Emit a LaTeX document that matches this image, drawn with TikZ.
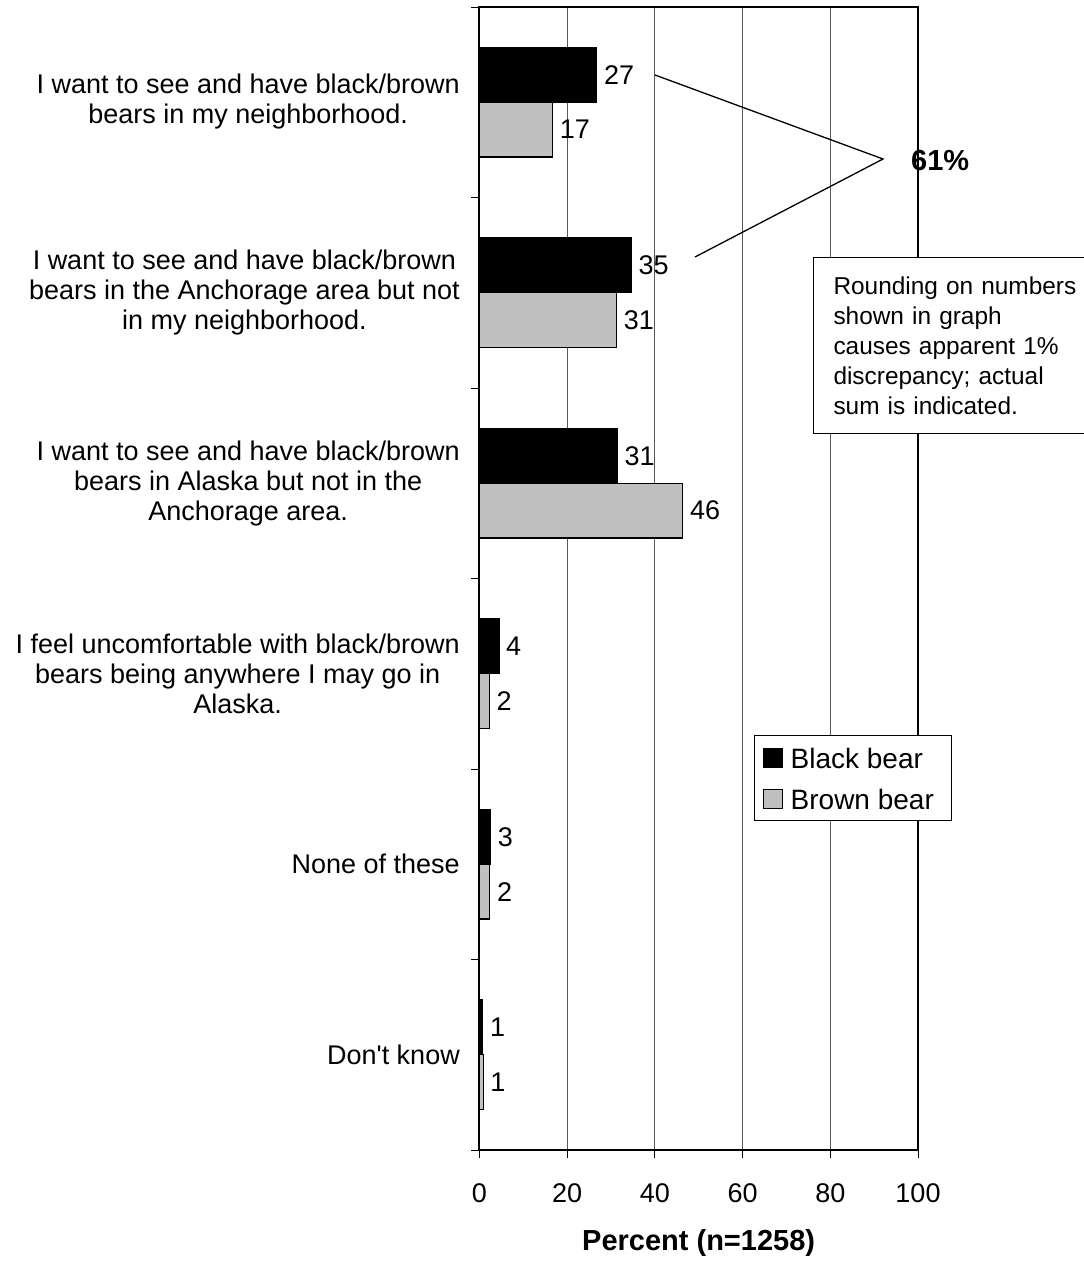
\documentclass[tikz,border=0pt]{standalone}
\usepackage{fontspec}
\setmainfont{Liberation Sans}[Ligatures=TeXOff]
\usetikzlibrary{calc,positioning}
\definecolor{barg}{HTML}{C0C0C0}

\begin{document}
\begin{tikzpicture}[x=1pt,y=-1pt,
		cat/.style={anchor=east,align=center,inner sep=0pt,font=\fontsize{27}{30}\selectfont},
		val/.style={anchor=west,inner sep=0pt,xshift=7pt,font=\fontsize{27}{30}\selectfont},
		blkbar/.style={draw=black,fill=black,line width=1.2pt},
		grybar/.style={draw=black,fill=barg,line width=1.2pt},
		gridln/.style={draw=black!65,line width=1pt},
		keysq/.style={draw=black,line width=1pt,minimum size=19pt,inner sep=0pt}]
		\useasboundingbox (0,0) rectangle (1084,1261);

		% plot area, x in percent
		\begin{scope}[shift={(479.3,0)},x=4.387pt]
		\draw[gridln] (20,7) -- (20,1150);
		\draw[gridln] (40,7) -- (40,1150);
		\draw[gridln] (60,7) -- (60,1150);
		\draw[gridln] (80,7) -- (80,1150);
		\draw[line width=2pt] (0,7) rectangle (100,1150);

		\draw[blkbar] (0,47.5) rectangle (26.8,102.25); \node[val] (v1a) at (26.8,74.9) {27};
		\draw[grybar] (0,102.25) rectangle (16.7,157); \node[val] (v1b) at (16.7,129.6) {17};

		\draw[blkbar] (0,238) rectangle (34.7,292.75); \node[val] (v2a) at (34.7,265.4) {35};
		\draw[grybar] (0,292.75) rectangle (31.3,347.5); \node[val] (v2b) at (31.3,320.1) {31};

		\draw[blkbar] (0,428.5) rectangle (31.5,483.25); \node[val] (v3a) at (31.5,455.9) {31};
		\draw[grybar] (0,483.25) rectangle (46.4,538); \node[val] (v3b) at (46.4,510.6) {46};

		\draw[blkbar] (0,619) rectangle (4.5,673.75); \node[val] (v4a) at (4.5,646.4) {4};
		\draw[grybar] (0,673.75) rectangle (2.3,728.5); \node[val] (v4b) at (2.3,701.1) {2};

		\draw[blkbar] (0,809.5) rectangle (2.6,864.25); \node[val] (v5a) at (2.6,836.9) {3};
		\draw[grybar] (0,864.25) rectangle (2.4,919); \node[val] (v5b) at (2.4,891.6) {2};

		\draw[blkbar] (0,1000) rectangle (0.8,1054.75); \node[val] (v6a) at (0.8,1027.4) {1};
		\draw[grybar] (0,1054.75) rectangle (0.9,1109.5); \node[val] (v6b) at (0.9,1082.1) {1};

		% x ticks and numbers
		\draw[line width=1pt] (0,1150) -- (0,1158); \node[font=\fontsize{27}{30}\selectfont] (t0) at (0,1193) {0};
		\draw[line width=1pt] (20,1150) -- (20,1158); \node[font=\fontsize{27}{30}\selectfont] (t20) at (20,1193) {20};
		\draw[line width=1pt] (40,1150) -- (40,1158); \node[font=\fontsize{27}{30}\selectfont] (t40) at (40,1193) {40};
		\draw[line width=1pt] (60,1150) -- (60,1158); \node[font=\fontsize{27}{30}\selectfont] (t60) at (60,1193) {60};
		\draw[line width=1pt] (80,1150) -- (80,1158); \node[font=\fontsize{27}{30}\selectfont] (t80) at (80,1193) {80};
		\draw[line width=1pt] (100,1150) -- (100,1158); \node[font=\fontsize{27}{30}\selectfont] (t100) at (100,1193) {100};
		\node[font=\bfseries\fontsize{29}{34}\selectfont] (xtitle) at (50,1243) {Percent (n=1258)};
		\end{scope}

		% category ticks
		\draw[line width=1pt] (471,7) -- (479.3,7);
		\draw[line width=1pt] (471,197.5) -- (479.3,197.5);
		\draw[line width=1pt] (471,388) -- (479.3,388);
		\draw[line width=1pt] (471,578.5) -- (479.3,578.5);
		\draw[line width=1pt] (471,769) -- (479.3,769);
		\draw[line width=1pt] (471,959.5) -- (479.3,959.5);
		\draw[line width=1pt] (471,1150) -- (479.3,1150);

		\node[cat] (c1) at (460,102) {I want to see and have black/brown\\bears in my neighborhood.};
		\node[cat] (c2) at (460,292.75) {I want to see and have black/brown\\bears in the Anchorage area but not\\in my neighborhood.};
		\node[cat] (c3) at (460,483.25) {I want to see and have black/brown\\bears in Alaska but not in the\\Anchorage area.};
		\node[cat] (c4) at (460,673.75) {I feel uncomfortable with black/brown\\bears being anywhere I may go in\\Alaska.};
		\node[cat] (c5) at (460,864.25) {None of these};
		\node[cat] (c6) at (460,1054.75) {Don't know};

		% sum callout
		\coordinate (s27) at (655,75);
		\coordinate (sapex) at (883,159);
		\coordinate (s35) at (695,257);
		\draw[line width=1.3pt] (s27) -- (sapex) -- (s35);
		\node[anchor=west,inner sep=0pt,font=\bfseries\fontsize{29}{34}\selectfont] (sum) at (911,161) {61\%};

		\node[draw=black,line width=1pt,fill=white,anchor=north west,align=left,text width=250pt,inner xsep=20pt,inner ysep=19pt,font=\fontsize{24.4}{30}\selectfont] (note) at (813,257) {Rounding on numbers\\shown in graph\\causes apparent 1\%\\discrepancy; actual\\sum is indicated.};

		% legend
		\node[draw=black,line width=1pt,fill=white,anchor=north west,minimum width=197pt,minimum height=85pt,inner sep=0pt] (legend) at (754,735) {};
		\node[keysq,fill=black] (kblk) at (772.5,758) {};
		\node[keysq,fill=barg] (kgry) at (772.5,799) {};
		\node[anchor=west,inner sep=0pt,font=\fontsize{28}{32}\selectfont,right=8pt of kblk] (lblk) {Black bear};
		\node[anchor=west,inner sep=0pt,font=\fontsize{28}{32}\selectfont,right=8pt of kgry] (lgry) {Brown bear};
\end{tikzpicture}
\end{document}
